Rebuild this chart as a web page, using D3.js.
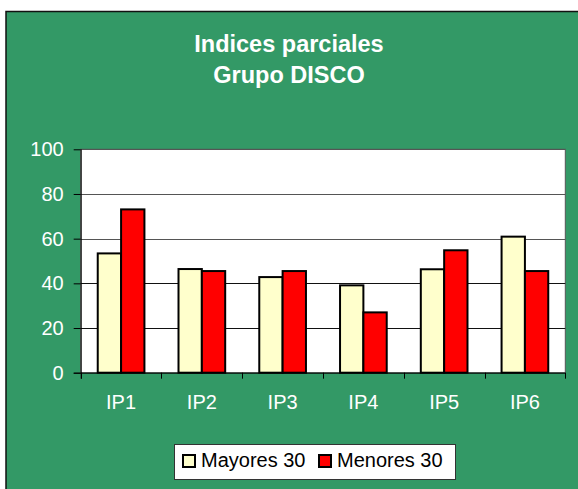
<!DOCTYPE html>
<html>
<head>
  <meta charset="utf-8">
  <title>Indices parciales - Grupo DISCO</title>
  <script src="https://d3js.org/d3.v7.min.js"></script>
  <style>
    body { margin: 0; background: #fff; }
    text { font-family: Arial, "Liberation Sans", sans-serif; }
  </style>
</head>
<body>
  <div id="chart"></div>
  <script>
// data
var categories = ["IP1", "IP2", "IP3", "IP4", "IP5", "IP6"];
var seriesNames = ["Mayores 30", "Menores 30"];
var mayores = [53.4, 46.4, 42.8, 39.1, 46.3, 60.9];
var menores = [73.1, 45.5, 45.5, 27.0, 54.8, 45.5];
var yTicks = [0, 20, 40, 60, 80, 100];
var titleLines = ["Indices parciales", "Grupo DISCO"];

var colors = ["#FFFFCC", "#FF0000"];
var W = 578, H = 489;
var plot = {left: 80.7, right: 565.3, top: 149.3, bottom: 372.7};

var svg = d3.select("#chart").append("svg")
    .attr("width", W)
    .attr("height", H);

// chart area
svg.append("rect")
    .attr("x", 6).attr("y", 11.5)
    .attr("width", W + 10).attr("height", H + 10)
    .attr("fill", "#339966")
    .attr("stroke", "#111").attr("stroke-width", 1.5);

// title
svg.selectAll(".title")
  .data(titleLines)
  .enter().append("text")
    .attr("class", "title")
    .attr("x", 289)
    .attr("y", function(d, i) { return 52 + i * 31; })
    .attr("text-anchor", "middle")
    .attr("fill", "#fff")
    .attr("font-weight", "bold")
    .attr("font-size", "23.5px")
    .text(function(d) { return d; });

var x = d3.scaleBand().domain(categories).range([plot.left, plot.right]).padding(0);
var x1 = d3.scaleBand().domain(seriesNames).range([0, x.bandwidth()]).paddingInner(0).paddingOuter(0.73);
var y = d3.scaleLinear().domain([0, 100]).range([plot.bottom, plot.top]);

// plot area
svg.append("rect")
    .attr("x", plot.left).attr("y", plot.top)
    .attr("width", plot.right - plot.left).attr("height", plot.bottom - plot.top)
    .attr("fill", "#fff")
    .attr("stroke", "#555").attr("stroke-width", 1);

// gridlines
svg.append("g")
  .selectAll("line")
  .data(yTicks.slice(1))
  .enter().append("line")
    .attr("x1", plot.left).attr("x2", plot.right)
    .attr("y1", function(d) { return Math.round(y(d)) + 0.5; })
    .attr("y2", function(d) { return Math.round(y(d)) + 0.5; })
    .attr("stroke", function(d) { return d >= 60 ? "#555" : "#111"; })
    .attr("stroke-width", 1);

// bars
var rows = categories.map(function(c, i) {
  return {cat: c, vals: [mayores[i], menores[i]]};
});

var groups = svg.append("g").selectAll("g")
  .data(rows)
  .enter().append("g")
    .attr("transform", function(d) { return "translate(" + x(d.cat) + ",0)"; });

groups.selectAll("rect")
  .data(function(d) { return d.vals.map(function(v, j) { return {name: seriesNames[j], v: v, j: j}; }); })
  .enter().append("rect")
    .attr("x", function(d) { return x1(d.name); })
    .attr("y", function(d) { return y(d.v); })
    .attr("width", x1.bandwidth())
    .attr("height", function(d) { return y(0) - y(d.v); })
    .attr("fill", function(d) { return colors[d.j]; })
    .attr("stroke", "#000")
    .attr("stroke-width", 2);

// y axis
var yAxis = svg.append("g")
    .attr("transform", "translate(" + plot.left + ",0)")
    .call(d3.axisLeft(y).tickValues(yTicks).tickSize(7).tickPadding(10));
yAxis.select(".domain").attr("stroke", "#000").attr("d", "M0.5," + plot.top + "V" + (plot.bottom + 6));
yAxis.selectAll(".tick line").attr("stroke", "#000");
yAxis.selectAll("text")
    .attr("fill", "#fff")
    .attr("font-size", "20px")
    .attr("font-family", "Arial, 'Liberation Sans', sans-serif");

// x axis
var xAxis = svg.append("g")
    .attr("transform", "translate(0," + plot.bottom + ")");
xAxis.append("line")
    .attr("x1", plot.left - 7).attr("x2", plot.right)
    .attr("y1", 0.5).attr("y2", 0.5)
    .attr("stroke", "#000");
xAxis.selectAll(".xt")
  .data(categories.concat(["end"]))
  .enter().append("line")
    .attr("class", "xt")
    .attr("x1", function(d, i) { return Math.round(i < categories.length ? x(d) : plot.right) + 0.5; })
    .attr("x2", function(d, i) { return Math.round(i < categories.length ? x(d) : plot.right) + 0.5; })
    .attr("y1", 0).attr("y2", 6)
    .attr("stroke", "#000");
xAxis.selectAll(".xl")
  .data(categories)
  .enter().append("text")
    .attr("class", "xl")
    .attr("x", function(d) { return x(d) + x.bandwidth() / 2; })
    .attr("y", 36.5)
    .attr("text-anchor", "middle")
    .attr("fill", "#fff")
    .attr("font-size", "20px")
    .text(function(d) { return d; });

// legend
var legend = svg.append("g").attr("transform", "translate(174,444)");
legend.append("rect")
    .attr("x", 0.5).attr("y", 0.5)
    .attr("width", 281).attr("height", 35)
    .attr("fill", "#fff")
    .attr("stroke", "#333");
var legX = [9, 145];
var items = legend.selectAll(".item")
  .data(seriesNames)
  .enter().append("g")
    .attr("transform", function(d, i) { return "translate(" + legX[i] + ",0)"; });
items.append("rect")
    .attr("x", 0).attr("y", 11)
    .attr("width", 12).attr("height", 12)
    .attr("fill", function(d, i) { return colors[i]; })
    .attr("stroke", "#000").attr("stroke-width", 2);
items.append("text")
    .attr("x", 18).attr("y", 23)
    .attr("fill", "#000")
    .attr("font-size", "20px")
    .text(function(d) { return d; });
  </script>
</body>
</html>
